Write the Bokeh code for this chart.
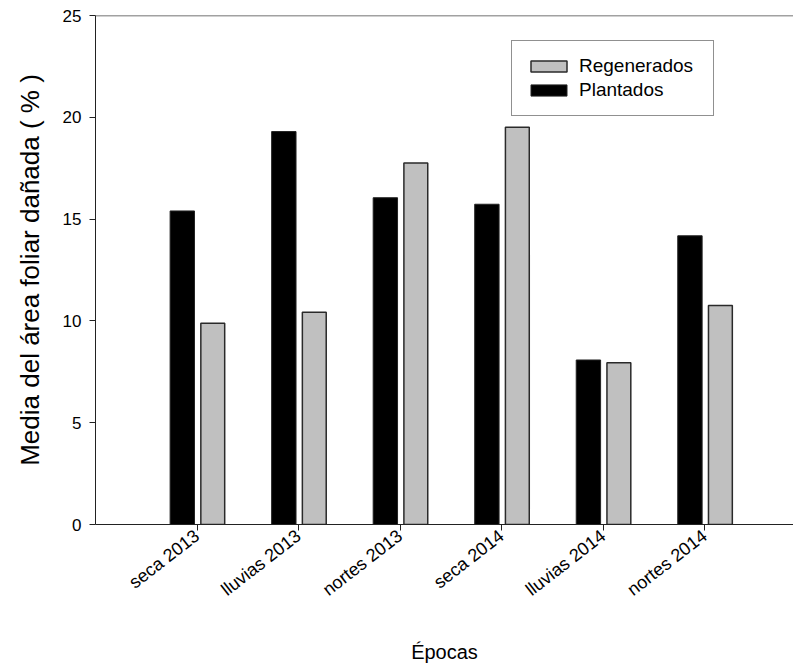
import math
from bokeh.plotting import figure
from bokeh.models import ColumnDataSource, FixedTicker, Span, Legend, LegendItem
from bokeh.embed import file_html
from bokeh.resources import INLINE

# ---- data ----
categories = ["seca 2013", "lluvias 2013", "nortes 2013", "seca 2014", "lluvias 2014", "nortes 2014"]
plantados = [15.4, 19.3, 16.05, 15.73, 8.08, 14.18]
regenerados = [9.89, 10.43, 17.76, 19.51, 7.94, 10.76]
y_ticks = [0, 5, 10, 15, 20, 25]

positions = list(range(1, len(categories) + 1))
src = ColumnDataSource(dict(
    pos=positions,
    xp=[p - 0.145 for p in positions],
    xr=[p + 0.155 for p in positions],
    plantados=plantados,
    regenerados=regenerados,
))

FONT = "Liberation Sans"

p = figure(width=793, height=666, output_backend="svg", toolbar_location=None,
           x_range=(0, 6.875), y_range=(0, 25),
           min_border_left=95, min_border_right=0, min_border_top=15, min_border_bottom=142)
p.outline_line_color = None
p.xgrid.grid_line_color = None
p.ygrid.grid_line_color = None
p.background_fill_color = "white"
p.border_fill_color = "white"

rp = p.vbar(x="xp", top="plantados", bottom=0, width=0.24, source=src,
            fill_color="black", line_color="#222222", line_width=1)
rr = p.vbar(x="xr", top="regenerados", bottom=0, width=0.235, source=src,
            fill_color="#c0c0c0", line_color="#2a2a2a", line_width=1.5)

# top frame line
p.add_layout(Span(location=25, dimension="width", line_color="#444444", line_width=1.5))

# y axis
yax = p.yaxis[0]
yax.ticker = FixedTicker(ticks=y_ticks)
yax.minor_tick_line_color = None
yax.major_tick_out = 6
yax.major_tick_in = 0
yax.major_label_text_font = FONT
yax.major_label_text_font_size = "17px"
yax.major_label_text_color = "black"
yax.major_label_standoff = 8
yax.axis_label = "Media del área foliar dañada ( % )"
yax.axis_label_text_font = FONT
yax.axis_label_text_font_size = "26px"
yax.axis_label_text_font_style = "normal"
yax.axis_label_text_color = "black"
yax.axis_label_standoff = 15
yax.axis_line_color = "#222222"
yax.major_tick_line_color = "#222222"

# x axis
xax = p.xaxis[0]
xax.ticker = FixedTicker(ticks=positions)
xax.major_label_overrides = {pos: c for pos, c in zip(positions, categories)}
xax.minor_tick_line_color = None
xax.major_tick_out = 6
xax.major_tick_in = 0
xax.major_label_orientation = 0.66
xax.major_label_text_font = FONT
xax.major_label_text_font_size = "18px"
xax.major_label_text_color = "black"
xax.major_label_standoff = 3
xax.axis_label = "Épocas"
xax.axis_label_text_font = FONT
xax.axis_label_text_font_size = "20px"
xax.axis_label_text_font_style = "normal"
xax.axis_label_text_color = "black"
xax.axis_label_standoff = 30
xax.axis_line_color = "#222222"
xax.major_tick_line_color = "#222222"

legend = Legend(items=[LegendItem(label="Regenerados", renderers=[rr]),
                       LegendItem(label="Plantados", renderers=[rp])],
                location=(416, 408))
legend.glyph_width = 45
legend.glyph_height = 14
legend.label_standoff = 8
legend.label_width = 120
legend.label_height = 22
legend.spacing = 2
legend.padding = 14
legend.margin = 0
legend.label_text_font = FONT
legend.label_text_font_size = "19px"
legend.label_text_color = "black"
legend.border_line_color = "#222222"
legend.border_line_width = 1.5
legend.background_fill_color = "white"
legend.background_fill_alpha = 1
p.add_layout(legend, "center")

open("out.html", "w").write(file_html(p, INLINE))
